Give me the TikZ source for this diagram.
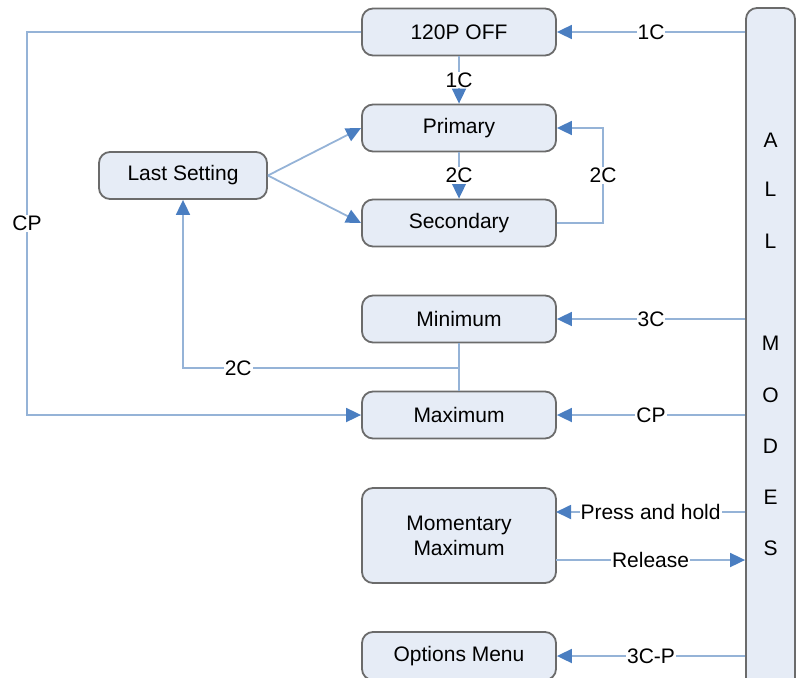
\documentclass[tikz,border=0pt]{standalone}
\usepackage{fontspec}
\setmainfont{Liberation Sans}
\usetikzlibrary{arrows.meta}
\definecolor{boxfill}{HTML}{E6ECF6}
\definecolor{boxdraw}{HTML}{6B6B6B}
\definecolor{linec}{HTML}{95B3D7}
\definecolor{tipc}{HTML}{4A7EC1}
\begin{document}
\begin{tikzpicture}[x=1pt,y=-1pt,
  txt/.style={font=\fontsize{21}{25}\selectfont},
  box/.style={txt, draw=boxdraw, fill=boxfill, line width=1.8pt, rounded corners=11pt,
    minimum width=194pt, minimum height=47pt, inner sep=0pt, align=center},
  conn/.style={draw=linec, line width=1.8pt, -{Triangle[length=15pt,width=14pt,color=tipc,fill=tipc]}},
  plain/.style={draw=linec, line width=1.8pt},
  lbl/.style={txt, fill=white, inner sep=1pt},
  letter/.style={txt, inner sep=0pt}]
\path[use as bounding box] (0,0) rectangle (800,677);
\clip (0,0) rectangle (800,677);
% nodes
\node[box] (off) at (459,32) {120P OFF};
\node[box] (prim) at (459,128) {Primary};
\node[box] (sec) at (459,223) {Secondary};
\node[box, minimum width=168pt] (ls) at (183,175.5) {Last Setting};
\node[box] (min) at (459,319) {Minimum};
\node[box] (max) at (459,415) {Maximum};
\node[box, minimum height=95pt] (mom) at (459,535.5) {Momentary\\Maximum};
\node[box, minimum height=48pt] (opt) at (459,656) {Options Menu};
\node[box, minimum width=49pt, minimum height=690pt] (all) at (770.5,353) {};
\node[letter] (lA) at (770.5,140) {A};
\node[letter] (lL1) at (770.5,189) {L};
\node[letter] (lL2) at (770.5,241) {L};
\node[letter] (lM) at (770.5,343) {M};
\node[letter] (lO) at (770.5,395) {O};
\node[letter] (lD) at (770.5,446) {D};
\node[letter] (lE) at (770.5,497) {E};
\node[letter] (lS) at (770.5,548) {S};
% connectors from ALL MODES
\draw[conn] (all.west |- off.east) -- node[lbl]{1C} (off.east);
\draw[conn] (all.west |- min.east) -- node[lbl]{3C} (min.east);
\draw[conn] (all.west |- max.east) -- node[lbl]{CP} (max.east);
\coordinate (ph) at (556,512);
\coordinate (rl) at (556,560);
\draw[conn] (all.west |- ph) -- node[lbl]{Press and hold} (ph);
\draw[conn] (rl) -- node[lbl]{Release} (all.west |- rl);
\draw[conn] (all.west |- opt.east) -- node[lbl]{3C-P} (opt.east);
% internal
\draw[conn] (off.south) -- node[lbl]{1C} (prim.north);
\draw[conn] (prim.south) -- node[lbl]{2C} (sec.north);
\coordinate (rr) at (603,0);
\draw[conn] (sec.east) -- (sec.east -| rr) -- node[lbl]{2C} (prim.east -| rr) -- (prim.east);
\draw[conn] (ls.east) -- (prim.west);
\draw[conn] (ls.east) -- (sec.west);
\coordinate (cpl) at (27,0);
\draw[conn] (off.west) -- (off.west -| cpl) -- node[lbl]{CP} (max.west -| cpl) -- (max.west);
\draw[plain] (min.south) -- (max.north);
\coordinate (j) at (459,368);
\draw[conn] (j) -- node[lbl, pos=0.8]{2C} (j -| ls.south) -- (ls.south);
\end{tikzpicture}
\end{document}
